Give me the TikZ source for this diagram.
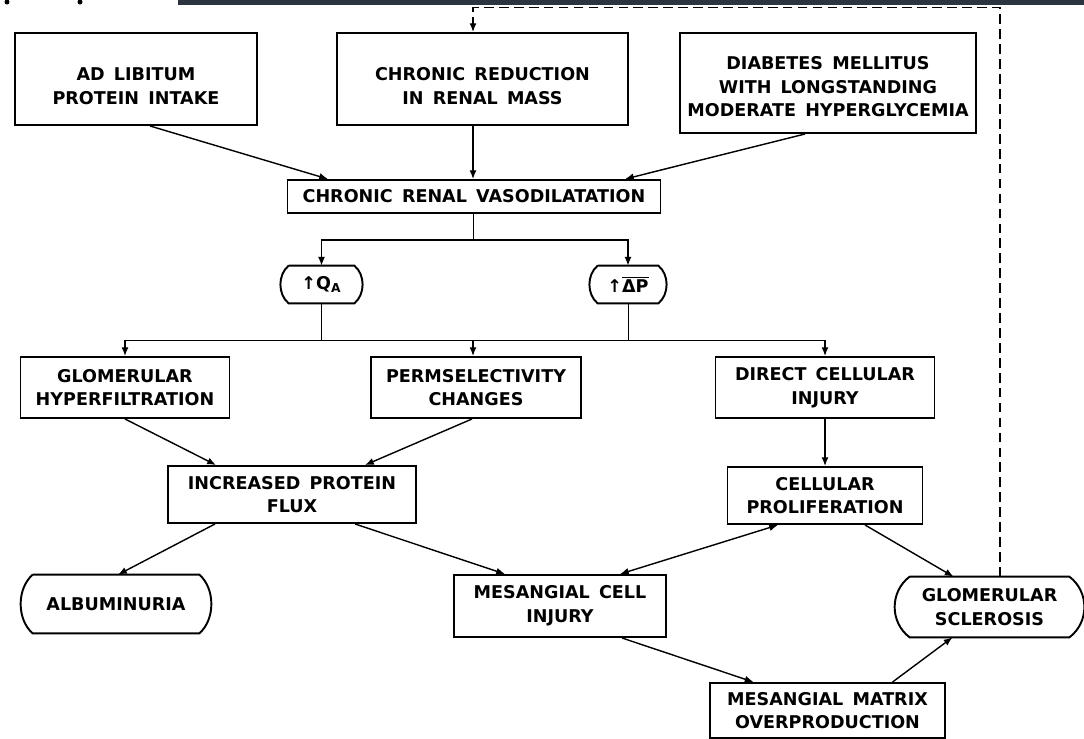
\documentclass[tikz,border=0pt]{standalone}
\usepackage{fontspec}
\setmainfont{DejaVu Sans}[WordSpace=1.5]
\usetikzlibrary{arrows.meta}

\definecolor{scanbar}{HTML}{2B3440}
\newlength\pix
\setlength\pix{0.02cm}

% text sitting a little low in its box
\newcommand\lowtext[2][9]{\raisebox{-#1\pix}[\height][\depth]{\begin{tabular}{@{}c@{}}#2\end{tabular}}}

% bulging sides for the rounded boxes
\newcommand\bulge[3]{%
    \draw[boxline] (#1.north west) -- (#1.north east)
        .. controls +(#2,#3) and +(#2,-#3) .. (#1.south east) -- (#1.south west)
        .. controls +(-#2,-#3) and +(-#2,#3) .. (#1.north west);}

\tikzset{
    boxline/.style={line width=1.1pt},
    label font/.style={font=\bfseries\fontsize{10}{13.5}\selectfont},
    box/.style={draw, boxline, align=center, inner sep=0pt, label font},
    term/.style={align=center, inner sep=0pt, label font},
    conn/.style={line width=0.8pt, -{Latex[length=5pt,width=4pt]}},
    both ways/.style={line width=0.8pt, {Latex[length=5pt,width=4pt]}-{Latex[length=5pt,width=4pt]}},
    feedback/.style={conn, dash pattern=on 5.5pt off 3pt},
}

\begin{document}
\begin{tikzpicture}[x=0.02cm, y=-0.02cm]

    \useasboundingbox (0,0) rectangle (1084,738);

    % Scan edge
    \fill[scanbar] (178,0) rectangle (1084,5);
    \fill (7,2) circle (0.05cm);
    \fill (80,2) circle (0.05cm);

    % Causes
    \node[box, minimum width=242\pix, minimum height=92\pix] (adlib) at (136,79)
        {\lowtext{AD LIBITUM\\PROTEIN INTAKE}};
    \node[box, minimum width=291\pix, minimum height=92\pix] (reduction) at (482.5,79)
        {\lowtext{CHRONIC REDUCTION\\IN RENAL MASS}};
    \node[box, minimum width=296\pix, minimum height=100\pix] (diabetes) at (828,83)
        {\lowtext[5.5]{DIABETES MELLITUS\\WITH LONGSTANDING\\MODERATE HYPERGLYCEMIA}};

    \node[box, minimum width=373\pix, minimum height=33\pix] (vaso) at (474,196.5)
        {CHRONIC RENAL VASODILATATION};

    % Haemodynamic changes
    \node[term, minimum width=65\pix, minimum height=37\pix] (qa) at (321.5,284.5)
        {↑Q\textsubscript{A}};
    \node[term, minimum width=60\pix, minimum height=37\pix] (dp) at (628,284.5)
        {↑$\overline{\mbox{ΔP}}$};

    \node[box, minimum width=209\pix, minimum height=61\pix] (hyper) at (125,387.5)
        {GLOMERULAR\\HYPERFILTRATION};
    \node[box, minimum width=210\pix, minimum height=61\pix] (perm) at (476,387.5)
        {PERMSELECTIVITY\\CHANGES};
    \node[box, minimum width=219\pix, minimum height=61\pix] (direct) at (825,387.5)
        {DIRECT CELLULAR\\INJURY};

    \node[box, minimum width=248\pix, minimum height=57\pix] (flux) at (292,494.5)
        {INCREASED PROTEIN\\FLUX};
    \node[box, minimum width=195\pix, minimum height=57\pix] (prolif) at (825,495.5)
        {CELLULAR\\PROLIFERATION};

    % Outcomes
    \node[term, minimum width=166\pix, minimum height=58\pix] (album) at (116,604)
        {ALBUMINURIA};
    \node[box, minimum width=212\pix, minimum height=62\pix] (mesinj) at (560,606)
        {MESANGIAL CELL\\INJURY};
    \node[term, minimum width=159\pix, minimum height=60\pix] (sclero) at (989.5,607)
        {GLOMERULAR\\SCLEROSIS};
    \node[box, minimum width=235\pix, minimum height=55\pix] (matrix) at (827.5,710.5)
        {MESANGIAL MATRIX\\OVERPRODUCTION};

    \bulge{qa}{11}{9}
    \bulge{dp}{11}{9}
    \bulge{album}{16}{14}
    \bulge{sclero}{20}{15}

    % Into the vasodilatation
    \draw[conn] ([xshift=14\pix]adlib.south) -- ([xshift=-146\pix]vaso.north);
    \draw[conn] ([xshift=-9.5\pix]reduction.south) -- ([xshift=-1\pix]vaso.north);
    \draw[conn] ([xshift=-23\pix]diabetes.south) -- ([xshift=151\pix]vaso.north);

    % Split to Q_A and delta P
    \draw ([xshift=-1\pix]vaso.south) -- ++(0,26) coordinate (vsplit);
    \draw[conn] (vsplit) -| (qa.north);
    \draw[conn] (vsplit) -| (dp.north);

    % Join and split to the three effects
    \draw (qa.south) -- ++(0,37) coordinate (qsplit);
    \draw (dp.south) -- (dp.south |- qsplit);
    \draw[conn] (qsplit) -| (hyper.north);
    \draw[conn] (qsplit) -| (direct.north);
    \draw[conn] ([xshift=-3\pix]qsplit -| perm.north) -- ([xshift=-3\pix]perm.north);

    \draw[conn] (hyper.south) -- ([xshift=-76\pix]flux.north);
    \draw[conn] ([xshift=-4\pix]perm.south) -- ([xshift=73\pix]flux.north);
    \draw[conn] (direct) -- (prolif);

    \draw[conn] ([xshift=-77\pix]flux.south) -- ([xshift=2\pix]album.north);
    \draw[conn] ([xshift=63\pix]flux.south) -- ([xshift=-55\pix]mesinj.north);
    \draw[both ways] ([xshift=60\pix]mesinj.north) -- ([xshift=-47\pix]prolif.south);
    \draw[conn] ([xshift=40\pix]prolif.south) -- ([xshift=-36\pix]sclero.north);
    \draw[conn] ([xshift=62\pix]mesinj.south) -- ([xshift=-74\pix]matrix.north);
    \draw[conn] ([xshift=65\pix]matrix.north) -- ([xshift=-37\pix]sclero.south);

    % Feedback to the renal mass
    \draw[feedback] ([xshift=10.5\pix]sclero.north) -- ++(0,-569) -| ([xshift=-9.5\pix]reduction.north);

\end{tikzpicture}
\end{document}
